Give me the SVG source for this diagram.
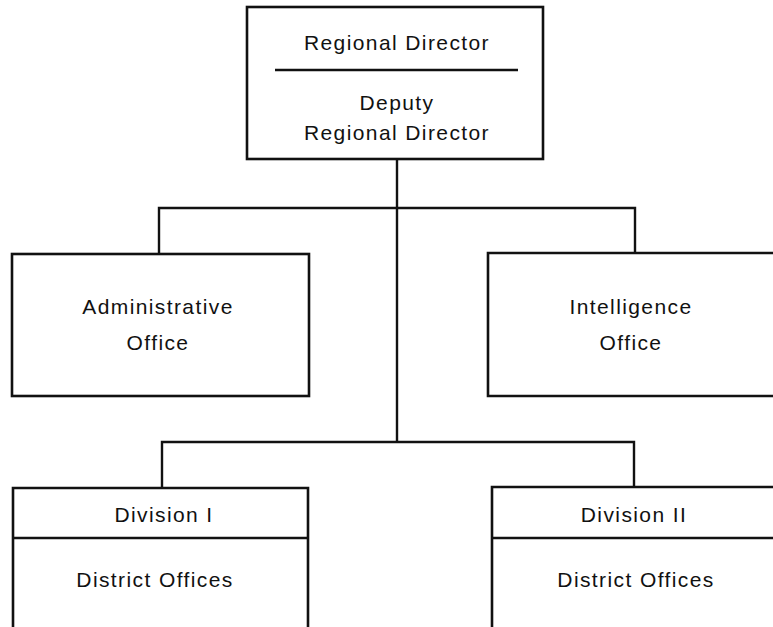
<svg xmlns="http://www.w3.org/2000/svg" width="773" height="627" viewBox="0 0 773 627">
<style>
.box{fill:none;stroke:#111;stroke-width:2.6;stroke-linejoin:miter}
.ln{fill:none;stroke:#111;stroke-width:2.4}
.t{font-family:"Liberation Sans",Arial,sans-serif;font-size:21px;letter-spacing:1.4px;fill:#111;text-anchor:middle}
</style>
<rect width="773" height="627" fill="#fff"/>
<g id="connectors">
<path class="ln" d="M397 159 V442"/>
<path class="ln" d="M159 254 V208 H635 V254"/>
<path class="ln" d="M162 488 V442 H634 V488"/>
</g>
<g id="regional-director">
<rect class="box" x="247" y="7" width="296" height="152"/>
<line class="ln" x1="275" y1="70" x2="518" y2="70"/>
<text class="t" x="397" y="50">Regional Director</text>
<text class="t" x="397" y="110">Deputy</text>
<text class="t" x="397" y="140">Regional Director</text>
</g>
<g id="administrative-office">
<rect class="box" x="12" y="254" width="297" height="142"/>
<text class="t" x="158" y="314">Administrative</text>
<text class="t" x="158" y="350">Office</text>
</g>
<g id="intelligence-office">
<path class="box" d="M790 253 H488 V396 H790"/>
<text class="t" x="631" y="314">Intelligence</text>
<text class="t" x="631" y="350">Office</text>
</g>
<g id="division-1">
<path class="box" d="M13 640 V488 H308 V640"/>
<line class="ln" x1="13" y1="538" x2="308" y2="538"/>
<text class="t" x="164" y="522">Division I</text>
<text class="t" x="155" y="587">District Offices</text>
</g>
<g id="division-2">
<path class="box" d="M492 640 V487 H790"/>
<line class="ln" x1="492" y1="538" x2="790" y2="538"/>
<text class="t" x="634" y="522">Division II</text>
<text class="t" x="636" y="587">District Offices</text>
</g>
</svg>
